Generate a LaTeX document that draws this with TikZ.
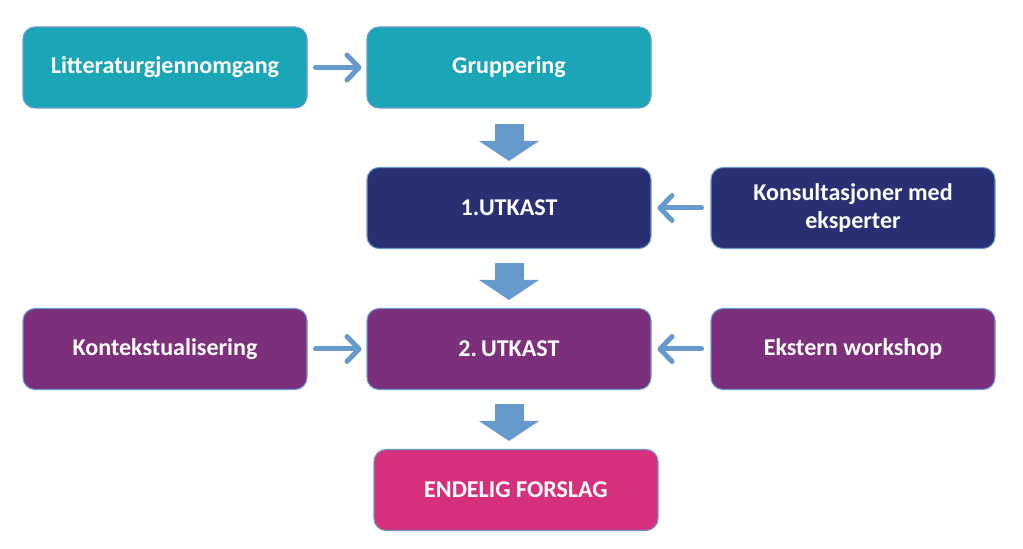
\documentclass[tikz,border=0pt]{standalone}
\usepackage{fontspec}
\setmainfont{Carlito}
\usetikzlibrary{arrows.meta, positioning}
\definecolor{flowTeal}{HTML}{1AA6B7}
\definecolor{flowNavy}{HTML}{292F73}
\definecolor{flowPlum}{HTML}{7C2F7B}
\definecolor{flowPink}{HTML}{D62F7B}
\definecolor{flowEdge}{HTML}{6A9AD0}
\definecolor{flowArrow}{HTML}{6699CC}

\begin{document}
\begin{tikzpicture}[
  font=\fontsize{13.7pt}{16pt}\selectfont\bfseries,
  box/.style={draw=flowEdge, line width=0.6pt, rounded corners=0.24cm,
              minimum width=5.68cm, minimum height=1.62cm, text=white,
              align=center, inner sep=2pt},
  bigdown/.style={draw=flowArrow, line width=0.58cm,
                  -{Triangle[width=1.18cm, length=0.40cm]}},
  side/.style={draw=flowArrow, line width=0.10cm, line cap=round,
               -{Straight Barb[length=0.24cm, width=0.50cm, line cap=round, round]}},
]
\useasboundingbox (0,0) rectangle (20.46,-10.98);

% --- the boxes, one row at a time ---
\node[box, fill=flowTeal] (lit) at (3.30,-1.35) {Litteraturgjennomgang};
\node[box, fill=flowTeal] (grp) at (10.18,-1.35) {Gruppering};

\node[box, fill=flowNavy] (u1) at (10.18,-4.16) {1.UTKAST};
\node[box, fill=flowNavy] (kons) at (17.06,-4.16) {Konsultasjoner med\\eksperter};

\node[box, fill=flowPlum] (kont) at (3.30,-6.98) {Kontekstualisering};
\node[box, fill=flowPlum] (u2) at (10.18,-6.98) {2.\,UTKAST};
\node[box, fill=flowPlum] (eks) at (17.06,-6.98) {Ekstern workshop};

\node[box, fill=flowPink] (fin) at (10.32,-9.80) {ENDELIG FORSLAG};

% --- side arrows ---
\draw[side, shorten <=0.16cm, shorten >=0.10cm] (lit.east) -- (grp.west);
\draw[side, shorten <=0.18cm, shorten >=0.12cm] (kons.west) -- (u1.east);
\draw[side, shorten <=0.16cm, shorten >=0.10cm] (kont.east) -- (u2.west);
\draw[side, shorten <=0.18cm, shorten >=0.12cm] (eks.west) -- (u2.east);

% --- the block arrows down the middle ---
\draw[bigdown, shorten <=0.30cm, shorten >=0.12cm] (grp.south) -- (u1.north);
\draw[bigdown, shorten <=0.28cm, shorten >=0.16cm] (u1.south) -- (u2.north);
\draw[bigdown, shorten <=0.28cm, shorten >=0.16cm] (u2.south) -- (u2.south |- fin.north);
\end{tikzpicture}
\end{document}
